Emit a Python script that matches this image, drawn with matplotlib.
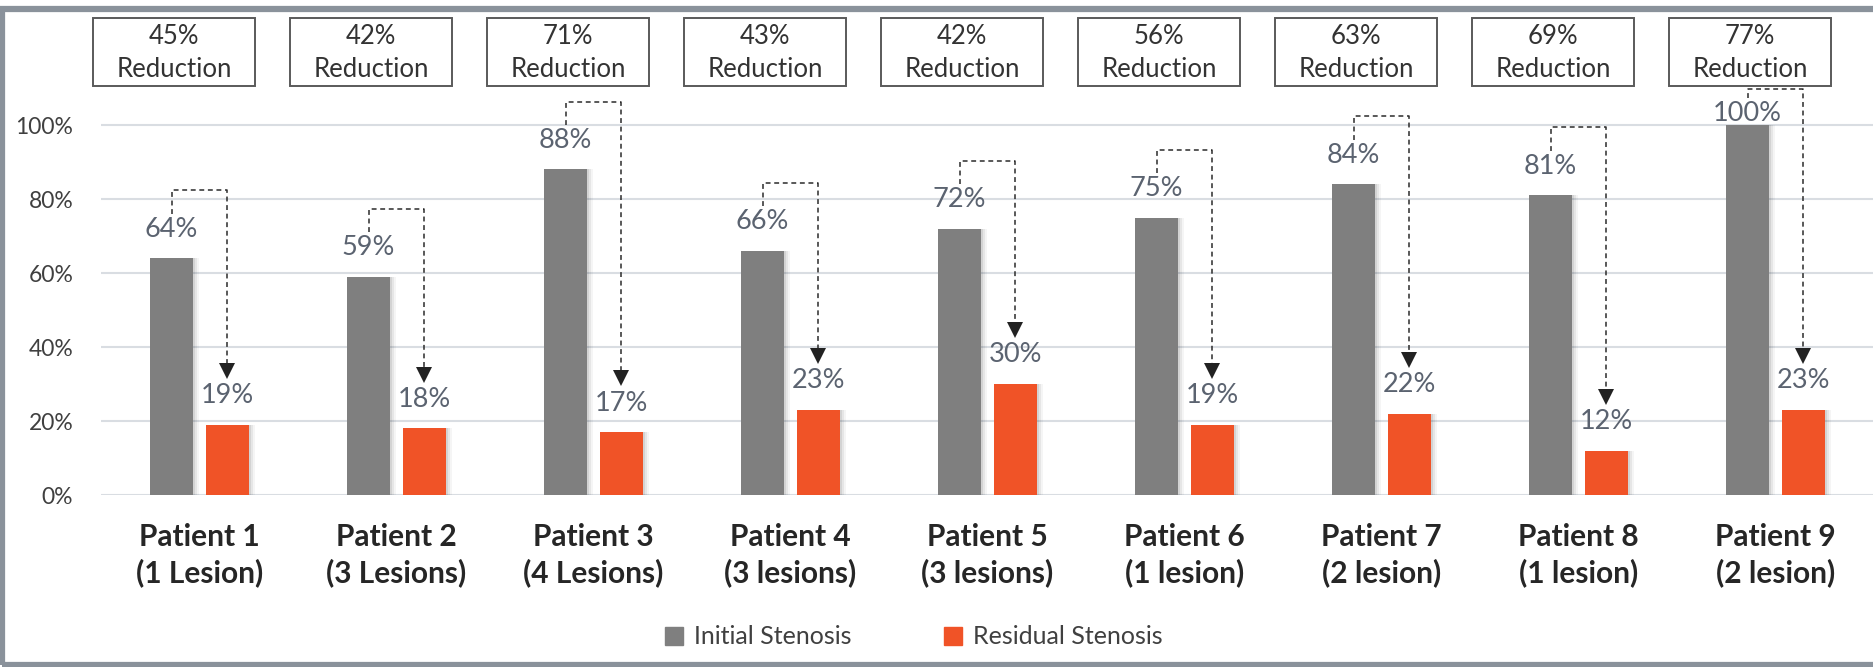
import matplotlib
matplotlib.use("Agg")
import matplotlib.pyplot as plt
from matplotlib.patches import Rectangle, Patch

plt.rcParams['font.family'] = ['Lato', 'DejaVu Sans']

# data
patients = ["Patient 1\n(1 Lesion)", "Patient 2\n(3 Lesions)", "Patient 3\n(4 Lesions)",
            "Patient 4\n(3 lesions)", "Patient 5\n(3 lesions)", "Patient 6\n(1 lesion)",
            "Patient 7\n(2 lesion)", "Patient 8\n(1 lesion)", "Patient 9\n(2 lesion)"]
initial = [64, 59, 88, 66, 72, 75, 84, 81, 100]
residual = [19, 18, 17, 23, 30, 19, 22, 12, 23]
reduction = [45, 42, 71, 43, 42, 56, 63, 69, 77]

GRAY = "#7f7f7f"
ORANGE = "#f05327"
LABEL = "#5b6370"
GRID = "#d9dde2"

W, H, DPI = 1874, 667, 100
fig = plt.figure(figsize=(W / DPI, H / DPI), dpi=DPI)

# plot area in pixels: x 101..1874, 0% at y=495, 100% at y=125
px_per_pct = 3.70
top_pct = 130
ax_bottom = H - 495
ax_h = top_pct * px_per_pct
ax = fig.add_axes([101 / W, ax_bottom / H, (1874 - 101) / W, ax_h / H])
ax.set_xlim(-0.5, len(patients) - 0.5)
ax.set_ylim(0, top_pct)

for s in ax.spines.values():
    s.set_visible(False)
for yv in range(0, 101, 20):
    ax.axhline(yv, color=GRID, lw=1.5, zorder=0)
ax.set_yticks(range(0, 101, 20))
ax.set_yticklabels([f"{v}%" for v in range(0, 101, 20)])
ax.tick_params(axis='y', length=0, pad=20, labelsize=16.5, labelcolor="#404040")
ax.set_xticks(range(len(patients)))
ax.set_xticklabels(patients, fontweight='bold', linespacing=1.3)
ax.tick_params(axis='x', length=0, pad=20, labelsize=21.5, labelcolor="#262626")

bw = 0.223
off = 0.142
xs = list(range(len(patients)))
dx = 1 / 197.0  # one pixel in x data units
dy = 1 / px_per_pct
label_cap = 103.2  # labels are kept inside the plot area

# soft drop shadow to the right of the bars
for k, a in [(6, 0.04), (4, 0.06), (2, 0.08)]:
    ax.bar([x - off + k * dx for x in xs], initial, bw, color="black", alpha=a, zorder=1, lw=0)
    ax.bar([x + off + k * dx for x in xs], residual, bw, color="black", alpha=a, zorder=1, lw=0)

ax.bar([x - off for x in xs], initial, bw, color=GRAY, zorder=2, label="Initial Stenosis")
ax.bar([x + off for x in xs], residual, bw, color=ORANGE, zorder=2, label="Residual Stenosis")

for i in xs:
    y_init = min(initial[i] + 29 * dy, label_cap)
    y_res = min(residual[i] + 29 * dy, label_cap)
    ax.text(i - off, y_init, f"{initial[i]}%", ha='center', va='center',
            fontsize=19.5, color=LABEL, zorder=6)
    ax.text(i + off, y_res, f"{residual[i]}%", ha='center', va='center',
            fontsize=19.5, color=LABEL, zorder=6)

    # dashed bracket from initial label down to residual label
    start = y_init + 4.2
    top = min(y_init + 10.5, 109.7)
    tip = residual[i] + 12.5
    ax.plot([i - off, i - off, i + off, i + off], [start, top, top, tip + 10 * dy],
            color="#2b2b2b", lw=1.1, ls=(0, (3.2, 2.4)), zorder=4, clip_on=False)
    ax.plot(i + off, tip + 7.5 * dy, marker='v', ms=11, color="#222222", mew=0, zorder=5,
            clip_on=False)

    # reduction box
    cx = i - 0.13
    bx_w = 0.82
    ax.add_patch(Rectangle((cx - bx_w / 2, 110.5), bx_w, 18.5, fill=False, ec="#5a5a5a",
                           lw=1.4, clip_on=False, zorder=3))
    ax.text(cx, 110.5 + 18.5 * 0.72, f"{reduction[i]}%", ha='center', va='center',
            fontsize=18.5, color="#333333")
    ax.text(cx, 110.5 + 18.5 * 0.25, "Reduction", ha='center', va='center',
            fontsize=18.5, color="#333333")

handles = [Patch(color=GRAY, label="Initial Stenosis"), Patch(color=ORANGE, label="Residual Stenosis")]
fig.legend(handles=handles, loc='center', bbox_to_anchor=(914 / W, 1 - 637 / H), ncol=2,
           frameon=False, fontsize=18, handlelength=0.7, handleheight=0.7,
           handletextpad=0.45, columnspacing=3.7, labelcolor="#404040")

# chart frame
fig.add_artist(Rectangle((2.5 / W, 2.5 / H), (W + 20) / W, (H - 11.5) / H, fill=False,
                         ec="#8a929b", lw=4.5, transform=fig.transFigure))

fig.savefig("out.png", dpi=DPI)
